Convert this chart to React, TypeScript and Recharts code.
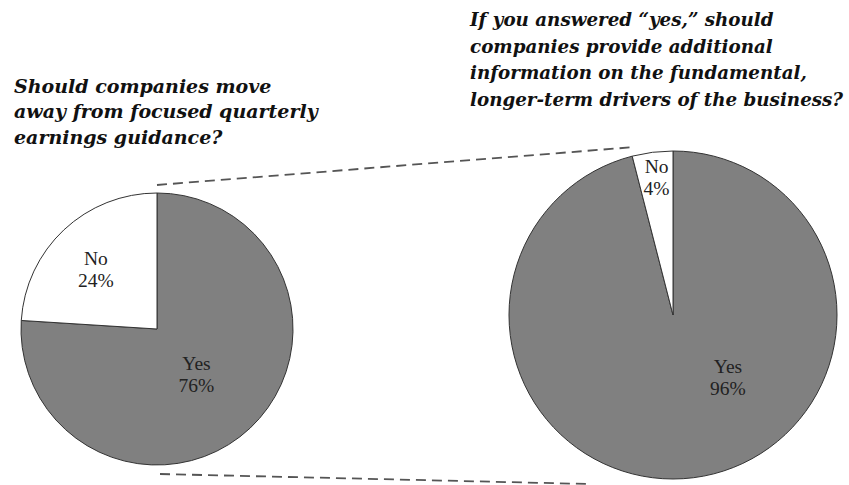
import React from "react";
import { PieChart, Pie, Cell } from "recharts";

// Survey answers (percent)
const answers = ["Yes", "No"];
const allRespondents = [76, 24];
const yesRespondents = [96, 4];

const leftTitle = [
  "Should companies move",
  "away from focused quarterly",
  "earnings guidance?",
];
const rightTitle = [
  "If you answered \u201cyes,\u201d should",
  "companies provide additional",
  "information on the fundamental,",
  "longer-term drivers of the business?",
];

const W = 849;
const H = 485;

const SLICE_FILL: Record<string, string> = { Yes: "#808080", No: "#ffffff" };

// where the two-line labels sit, as fractions of the radius from the centre
const LEFT_LABELS: Record<string, [number, number]> = {
  Yes: [0.29, 0.33],
  No: [-0.45, -0.44],
};
const RIGHT_LABELS: Record<string, [number, number]> = {
  Yes: [0.335, 0.375],
  No: [-0.1, -0.84],
};

function toRows(values: number[]) {
  return answers.map((name, i) => ({ name, value: values[i] }));
}

function makeLabel(pos: Record<string, [number, number]>) {
  return function SliceLabel(props: any) {
    const { cx, cy, outerRadius, name, value } = props;
    const p = pos[name];
    if (!p) return null;
    const x = cx + p[0] * outerRadius;
    const y = cy + p[1] * outerRadius;
    return (
      <text
        x={x}
        y={y}
        textAnchor="middle"
        fill="#222"
        fontSize={19.5}
        fontFamily="'Liberation Serif', serif"
      >
        <tspan x={x} dy={-4}>
          {name}
        </tspan>
        <tspan x={x} dy={22}>
          {value}%
        </tspan>
      </text>
    );
  };
}

function Title({
  lines,
  x,
  y,
  step,
  size,
}: {
  lines: string[];
  x: number;
  y: number;
  step: number;
  size: number;
}) {
  return (
    <text
      x={x}
      y={y}
      fill="#111"
      fontSize={size}
      fontWeight="bold"
      fontStyle="italic"
      fontFamily="'DejaVu Serif', serif"
    >
      {lines.map((l, i) => (
        <tspan key={i} x={x} y={y + i * step}>
          {l}
        </tspan>
      ))}
    </text>
  );
}

export default function App() {
  const left = toRows(allRespondents);
  const right = toRows(yesRespondents);

  return (
    <div style={{ position: "absolute", left: 0, top: 0, width: W, height: H, background: "#fff" }}>
      <PieChart width={W} height={H} margin={{ top: 0, right: 0, bottom: 0, left: 0 }}>
        <Pie
          data={left}
          dataKey="value"
          nameKey="name"
          cx={157}
          cy={329}
          outerRadius={136}
          startAngle={90}
          endAngle={-270}
          stroke="#333"
          strokeWidth={1}
          label={makeLabel(LEFT_LABELS)}
          labelLine={false}
          isAnimationActive={false}
        >
          {left.map((d) => (
            <Cell key={d.name} fill={SLICE_FILL[d.name]} />
          ))}
        </Pie>
        <Pie
          data={right}
          dataKey="value"
          nameKey="name"
          cx={673}
          cy={315}
          outerRadius={164}
          startAngle={90}
          endAngle={-270}
          stroke="#333"
          strokeWidth={1}
          label={makeLabel(RIGHT_LABELS)}
          labelLine={false}
          isAnimationActive={false}
        >
          {right.map((d) => (
            <Cell key={d.name} fill={SLICE_FILL[d.name]} />
          ))}
        </Pie>
      </PieChart>
      <svg
        width={W}
        height={H}
        style={{ position: "absolute", left: 0, top: 0, pointerEvents: "none" }}
      >
        <Title lines={leftTitle} x={14} y={93} step={25.3} size={19} />
        <Title lines={rightTitle} x={470} y={26} step={26.5} size={18.3} />
        {/* dashed "zoom" lines joining the two pies */}
        <line x1={157} y1={185} x2={635} y2={147} stroke="#555" strokeWidth={1.8} strokeDasharray="10 6" />
        <line x1={160} y1={474} x2={590} y2={484} stroke="#555" strokeWidth={1.8} strokeDasharray="10 6" />
      </svg>
    </div>
  );
}
